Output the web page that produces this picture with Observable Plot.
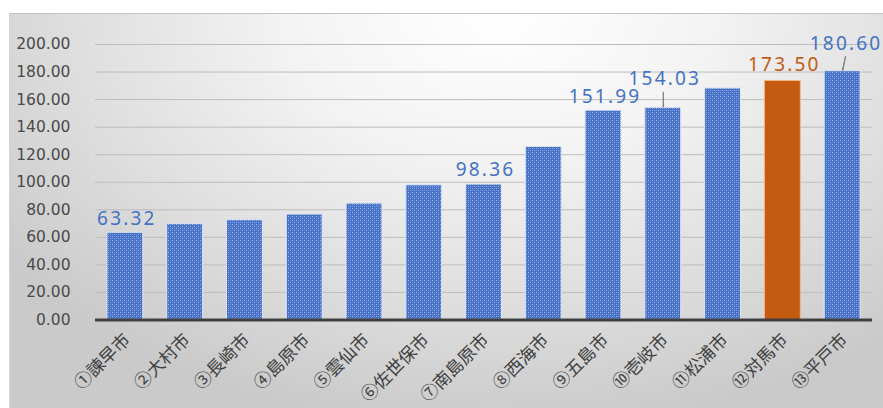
<!DOCTYPE html>
<html><head><meta charset="utf-8">
<script src="https://cdn.jsdelivr.net/npm/d3@7"></script>
<script src="https://cdn.jsdelivr.net/npm/@observablehq/plot@0.6"></script>
<style>
html,body{margin:0;padding:0;background:#fff;}
#wrap{position:relative;width:883px;height:408px;overflow:hidden;}
#panel{position:absolute;left:9px;top:13px;width:874px;height:395px;box-sizing:border-box;
  border-top:1px solid #c4c4c4;border-left:1px solid #d4d4d4;
  background:radial-gradient(ellipse 70% 105% at 56% 0%, #ffffff 0%, #f3f3f3 35%, #dedede 70%, #cacaca 100%);}
#chart{position:absolute;left:0;top:0;}
</style></head>
<body>
<div id="wrap"><div id="panel"></div><div id="chart"></div></div>
<script>
// ---- data ----
const cities = ["①諫早市","②大村市","③長崎市","④島原市","⑤雲仙市","⑥佐世保市","⑦南島原市","⑧西海市","⑨五島市","⑩壱岐市","⑪松浦市","⑫対馬市","⑬平戸市"];
const values = [63.32, 69.6, 72.5, 76.6, 84.5, 97.8, 98.36, 125.6, 151.99, 154.03, 168.1, 173.50, 180.60];
const yTicks = [0, 20, 40, 60, 80, 100, 120, 140, 160, 180, 200];
const labelledCities = ["①諫早市","⑦南島原市","⑨五島市","⑩壱岐市","⑫対馬市","⑬平戸市"];
const highlight = "⑫対馬市";

// ---- layout (label offsets in px, leader lines) ----
const labelOffsets = {"①諫早市":[1.5,-14],"⑦南島原市":[1.5,-14.5],"⑨五島市":[1.5,-14],"⑩壱岐市":[1.5,-29],"⑫対馬市":[1.5,-16],"⑬平戸市":[3.5,-27.5]};
const leaders = {"⑩壱岐市":{length:15,rotate:0},"⑬平戸市":{length:14.5,rotate:12}};

const rows = cities.map((name, i) => ({name, value: values[i]}));
const BLUE = "#4472c4", ORANGE = "#c55a11";
const LABEL_FONT = "Noto Sans";

const labelMarks = labelledCities.map(name => {
  const r = rows.filter(d => d.name === name);
  const [dx, dy] = labelOffsets[name];
  return Plot.text(r, {x: "name", y: "value", text: d => d3.format(".2f")(d.value),
    dx, dy, fontSize: 19, fontFamily: LABEL_FONT,
    fill: name === highlight ? ORANGE : BLUE});
});
const leaderMarks = Object.keys(leaders).map(name => Plot.vector(rows.filter(d => d.name === name), {
  x: "name", y: "value", dy: -1, anchor: "start", length: leaders[name].length, rotate: leaders[name].rotate,
  shape: "spike", r: 0.35, stroke: "#808080", fill: "#808080", strokeWidth: 0.9
}));

const svg = Plot.plot({
  width: 883, height: 408,
  marginLeft: 95, marginRight: 11, marginTop: 44, marginBottom: 88.5,
  style: {background: "transparent", overflow: "visible"},
  x: {type: "band", domain: cities, paddingInner: 0.4, paddingOuter: 0.2, round: false, axis: null},
  y: {domain: [0, 200], axis: null},
  marks: [
    Plot.ruleY(yTicks.filter(t => t > 0), {stroke: "#bdbdbd", strokeWidth: 1}),
    Plot.axisY({ticks: yTicks, tickSize: 0, tickPadding: 25, tickFormat: d3.format(".2f"),
      fontSize: 15.5, fontFamily: "DejaVu Sans, sans-serif", fill: "#4a4a4a", label: null}),
    Plot.barY(rows.filter(d => d.name !== highlight), {x: "name", y: "value", fill: "url(#dots)", stroke: "#dde6f6", strokeWidth: 1}),
    Plot.barY(rows.filter(d => d.name === highlight), {x: "name", y: "value", fill: ORANGE, stroke: "#f1b58c", strokeWidth: 1}),
    Plot.ruleY([0], {stroke: "#3f3f3f", strokeWidth: 3}),
    Plot.text(cities, {x: d => d, y: () => 0, text: d => d, rotate: -45, textAnchor: "end",
      dx: 2, dy: 17, fontSize: 17.5, fontFamily: "Noto Sans CJK JP, sans-serif", fill: "#404040"}),
    ...leaderMarks,
    ...labelMarks
  ]
});

const defs = document.createElementNS("http://www.w3.org/2000/svg", "defs");
defs.innerHTML = `<pattern id="dots" width="4" height="4" patternUnits="userSpaceOnUse">
  <rect width="4" height="4" fill="#4671c6"/>
  <rect x="0" y="0" width="1" height="1" fill="#9ab3e4"/>
  <rect x="2" y="2" width="1" height="1" fill="#9ab3e4"/>
  <rect x="2" y="0" width="1" height="1" fill="#6f90d3"/>
  <rect x="0" y="2" width="1" height="1" fill="#6f90d3"/>
</pattern>`;
svg.prepend(defs);
d3.select(svg).selectAll("g").filter(function() { return this.getAttribute("font-family") === LABEL_FONT; })
  .selectAll("text").style("letter-spacing", "2.2px");
document.getElementById("chart").appendChild(svg);
</script>
</body></html>
